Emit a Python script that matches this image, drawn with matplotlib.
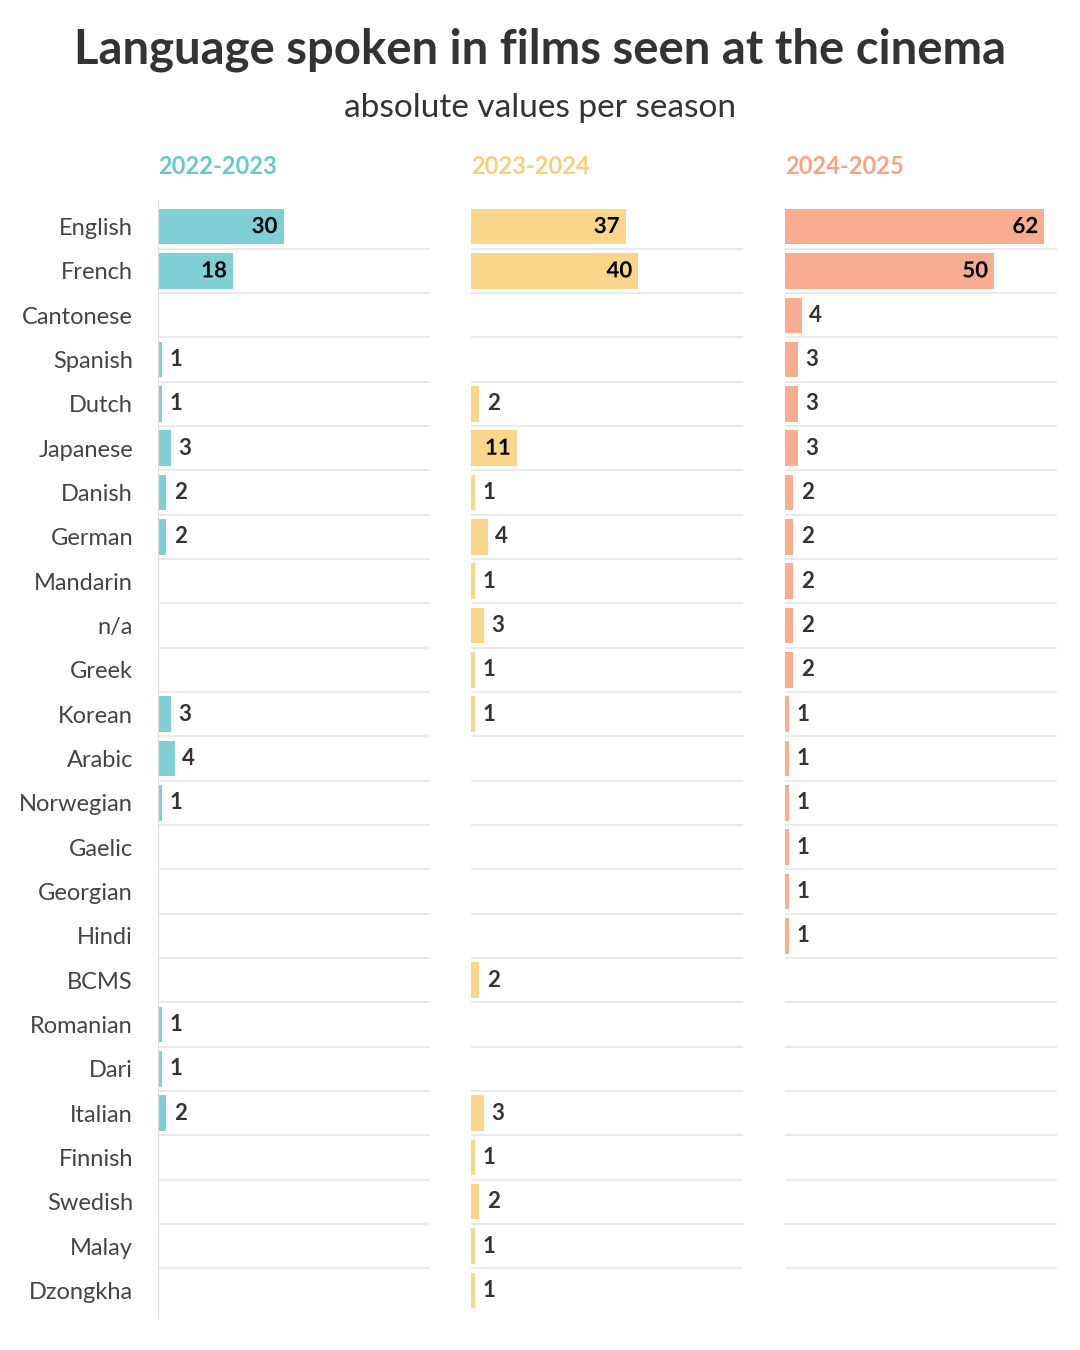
import matplotlib.pyplot as plt
import matplotlib.patheffects as pe

languages = ["English", "French", "Cantonese", "Spanish", "Dutch", "Japanese", "Danish",
             "German", "Mandarin", "n/a", "Greek", "Korean", "Arabic", "Norwegian", "Gaelic",
             "Georgian", "Hindi", "BCMS", "Romanian", "Dari", "Italian", "Finnish", "Swedish",
             "Malay", "Dzongkha"]
seasons = ["2022-2023", "2023-2024", "2024-2025"]
v2022 = [30, 18, 0, 1, 1, 3, 2, 2, 0, 0, 0, 3, 4, 1, 0, 0, 0, 0, 1, 1, 2, 0, 0, 0, 0]
v2023 = [37, 40, 0, 0, 2, 11, 1, 4, 1, 3, 1, 1, 0, 0, 0, 0, 0, 2, 0, 0, 3, 1, 2, 1, 1]
v2024 = [62, 50, 4, 3, 3, 3, 2, 2, 2, 2, 2, 1, 1, 1, 1, 1, 1, 0, 0, 0, 0, 0, 0, 0, 0]
values = [v2022, v2023, v2024]
bar_colors = ["#7fcfd7", "#f8d78b", "#f9ad90"]
head_colors = ["#6cc6cf", "#f6cf7c", "#f7a486"]

plt.rcParams['font.family'] = ['Lato', 'DejaVu Sans']
fig = plt.figure(figsize=(10.8, 13.5), dpi=100)
fig.text(0.5, 0.963, "Language spoken in films seen at the cinema", ha='center', va='center',
         fontsize=34, fontweight='bold', color='#333333')
fig.text(0.5, 0.92, "absolute values per season", ha='center', va='center',
         fontsize=24, color='#333333')

lefts = [158, 471, 785]
width = 272
bottom = 1 - 1317 / 1350
top = 1 - 200 / 1350
n = len(languages)
for k in range(3):
    ax = fig.add_axes([lefts[k] / 1080, bottom, width / 1080, top - bottom])
    ys = list(range(n))
    ax.barh(ys, values[k], height=0.8, color=bar_colors[k])
    for y, v in zip(ys, values[k]):
        if v == 0:
            continue
        if v >= 11:
            t = ax.text(v - 1.5, y, str(v), ha='right', va='center', fontsize=16,
                        fontweight='bold', color='black')
            t.set_path_effects([pe.withStroke(linewidth=4, foreground=bar_colors[k])])
        else:
            ax.text(v + 1.8, y, str(v), ha='left', va='center', fontsize=16,
                    fontweight='bold', color='#333333')
    for y in range(n - 1):
        ax.axhline(y + 0.5, color='#e6e6e6', lw=1.2)
    ax.set_xlim(0, 65)
    ax.set_ylim(n - 0.4, -0.6)
    ax.set_xticks([])
    for s in ax.spines.values():
        s.set_visible(False)
    if k == 0:
        ax.spines['left'].set_visible(True)
        ax.spines['left'].set_color('#dddddd')
        ax.set_yticks(ys)
        ax.set_yticklabels(languages, fontsize=17, color='#444444')
        ax.tick_params(axis='y', length=0, pad=18)
    else:
        ax.set_yticks([])
    fig.text(lefts[k] / 1080, 1 - 166 / 1350, seasons[k], ha='left', va='center',
             fontsize=17, fontweight='bold', color=head_colors[k])

fig.savefig("out.png", dpi=100)
